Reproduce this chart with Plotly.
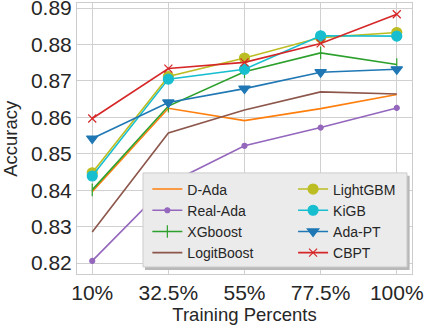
import plotly.graph_objects as go

# training percents (x) and accuracy per method
x_vals = [10, 32.5, 55, 77.5, 100]
x_labels = ['10%', '32.5%', '55%', '77.5%', '100%']

d_ada = [0.8396, 0.8625, 0.8591, 0.8624, 0.8663]
real_ada = [0.8206, 0.8418, 0.8522, 0.8572, 0.8626]
xgboost = [0.8401, 0.8631, 0.8725, 0.8777, 0.8745]
logitboost = [0.8285, 0.8557, 0.8620, 0.8670, 0.8664]
lightgbm = [0.8448, 0.8712, 0.8763, 0.8819, 0.8833]
kigb = [0.8439, 0.8705, 0.8732, 0.8824, 0.8823]
ada_pt = [0.8542, 0.8641, 0.8679, 0.8724, 0.8732]
cbpt = [0.8597, 0.8734, 0.8751, 0.8803, 0.8883]
y_ticks = [0.82, 0.83, 0.84, 0.85, 0.86, 0.87, 0.88, 0.89]

# name, values, colour, marker symbol, marker size, legend column
series = [
    ('D-Ada', d_ada, '#ff7f0e', None, 0, 'legend'),
    ('Real-Ada', real_ada, '#9467bd', 'circle', 5, 'legend'),
    ('XGboost', xgboost, '#2ca02c', 'line-ns', 9, 'legend'),
    ('LogitBoost', logitboost, '#8c564b', None, 0, 'legend'),
    ('LightGBM', lightgbm, '#bcbd22', 'circle', 10, 'legend2'),
    ('KiGB', kigb, '#17becf', 'circle', 10, 'legend2'),
    ('Ada-PT', ada_pt, '#1f77b4', 'triangle-down', 10, 'legend2'),
    ('CBPT', cbpt, '#d62728', 'x-thin', 8, 'legend2'),
]

fig = go.Figure()
for name, vals, color, sym, size, leg in series:
    if sym is None:
        mode = 'lines'
        marker = dict(color=color)
    else:
        mode = 'lines+markers'
        marker = dict(symbol=sym, size=size, color=color,
                      line=dict(color=color, width=1.2))
    fig.add_trace(go.Scatter(x=x_vals, y=vals, name=name, mode=mode,
                             line=dict(color=color, width=1.6),
                             marker=marker, legend=leg))

axis_style = dict(showgrid=True, gridcolor='#d0d0d0', gridwidth=1,
                  showline=True, linecolor='#cccccc', linewidth=1, mirror=True,
                  zeroline=False, ticks='', automargin=False,
                  ticklabeloverflow='allow',
                  tickfont=dict(size=21, color='#262626'))

# legend box (shadow + frame), both legends sit on top of it
fig.add_shape(type='rect', xref='paper', yref='paper', layer='above',
              x0=0.203, x1=0.993, y0=0.015, y1=0.363,
              fillcolor='#b8b8b8', line=dict(width=0))
fig.add_shape(type='rect', xref='paper', yref='paper', layer='above',
              x0=0.197, x1=0.985, y0=0.026, y1=0.373,
              fillcolor='#ebebeb', line=dict(color='#cccccc', width=1))

# y axis title as annotation so it can sit close to the page edge
fig.add_annotation(text='Accuracy', xref='paper', yref='paper',
                   x=-0.199, y=0.5, xanchor='center', yanchor='middle',
                   textangle=-90, showarrow=False, font=dict(size=18.5))

leg_common = dict(bgcolor='rgba(0,0,0,0)', borderwidth=0, font=dict(size=14),
                  yanchor='top', xanchor='left', tracegroupgap=0)

fig.update_layout(
    width=426, height=326,
    margin=dict(l=77, r=14, t=3, b=52),
    plot_bgcolor='white', paper_bgcolor='white',
    font=dict(family='Liberation Sans, Arial, sans-serif', color='#262626'),
    xaxis=dict(tickmode='array', tickvals=x_vals, ticktext=x_labels,
               range=[5.5, 104.5],
               title=dict(text='Training Percents', font=dict(size=18.5), standoff=2),
               **axis_style),
    yaxis=dict(range=[0.817, 0.8914], tickmode='array', tickvals=y_ticks,
               tickformat='.2f', **axis_style),
    legend=dict(x=0.21, y=0.371, **leg_common),
    legend2=dict(x=0.645, y=0.371, **leg_common),
)

fig.write_html('out.html', config={'displayModeBar': False},
               post_script="document.body.style.margin='0px';")
